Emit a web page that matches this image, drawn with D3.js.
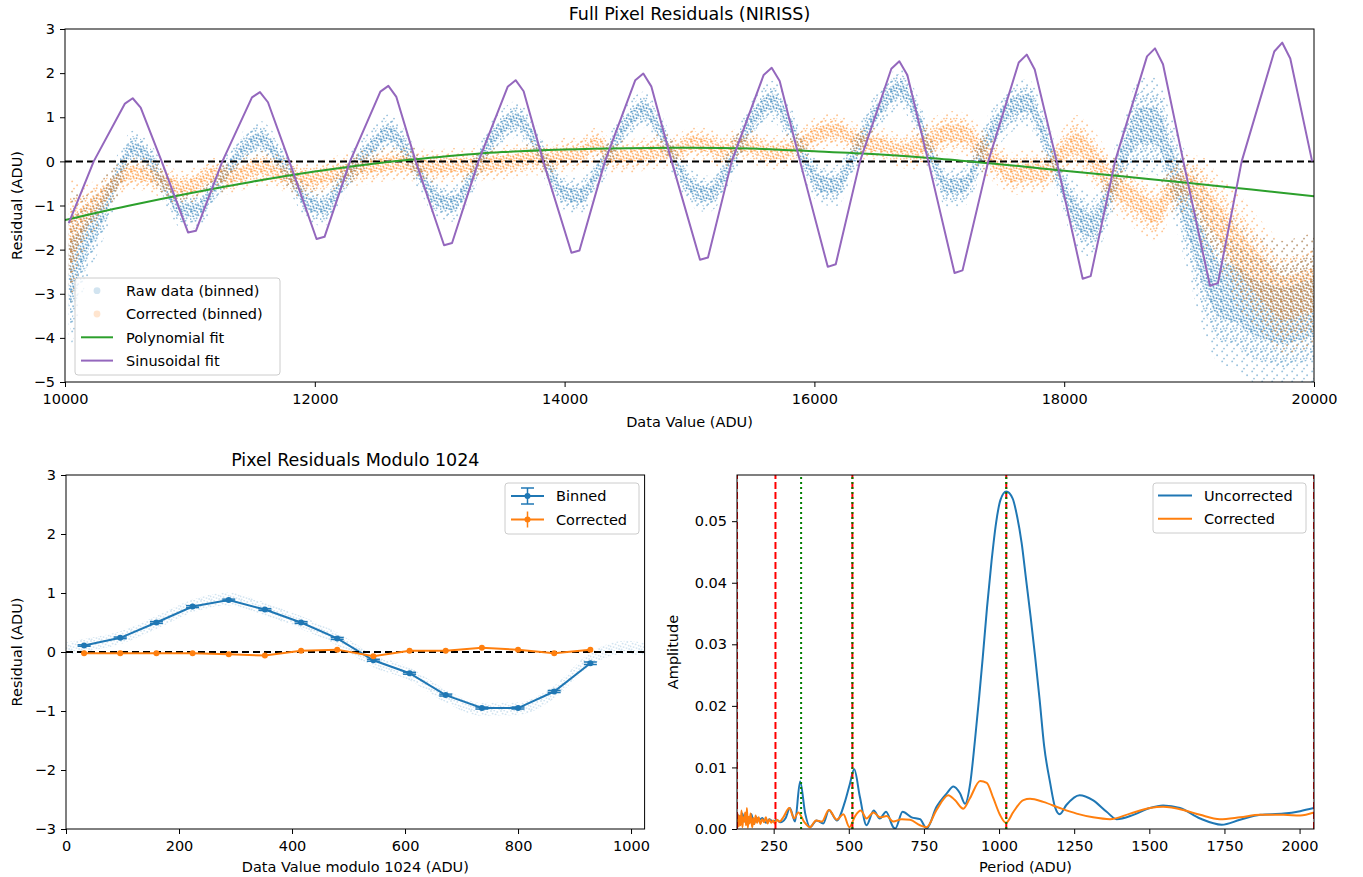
<!DOCTYPE html>
<html>
<head>
<meta charset="utf-8">
<script src="https://cdn.jsdelivr.net/npm/d3@7"></script>
<style>
  body { margin: 0; background: #fff; }
  svg text { font-family: "DejaVu Sans", sans-serif; fill: #000; }
  .tick text { font-size: 14.5px; }
  .tick line { stroke: #000; }
  .domain { display: none; }
</style>
</head>
<body>
<svg width="1363" height="877"></svg>
<script>
'use strict';

// ---- top panel: residual clouds, sampled every 128 ADU from 10030 ----
var gridStart = 10030, gridStep = 128;

var rawMid = [-2.6, -1.8, -1.2, -0.4, 0.28, 0.05, -0.55, -1.08, -1.10, -0.65,
  -0.15, 0.30, 0.50, 0.15, -0.40, -0.95, -1.05, -0.50, -0.05, 0.34,
  0.65, 0.30, -0.30, -0.85, -0.95, -0.50, 0.25, 0.72, 0.95, 0.55,
  -0.15, -0.72, -0.78, -0.30, 0.32, 0.90, 1.17, 0.68, -0.04, -0.62,
  -0.74, -0.30, 0.42, 1.05, 1.36, 0.90, 0.08, -0.50, -0.55, 0.05,
  0.78, 1.35, 1.65, 1.10, 0.08, -0.58, -0.55, 0.15, 0.80, 1.22,
  1.32, 0.60, -0.40, -1.20, -1.45, -0.80, 0.20, 0.80, 0.80, -0.10,
  -1.20, -2.20, -2.90, -3.00, -3.30, -3.40, -3.50, -3.40, -3.30];
var rawSpread = [1.5, 0.8, 0.55, 0.4, 0.32, 0.32, 0.32, 0.32, 0.32, 0.32,
  0.32, 0.32, 0.32, 0.32, 0.32, 0.32, 0.32, 0.32, 0.32, 0.32,
  0.32, 0.32, 0.32, 0.32, 0.32, 0.32, 0.32, 0.32, 0.32, 0.32,
  0.32, 0.32, 0.32, 0.32, 0.32, 0.32, 0.32, 0.32, 0.32, 0.32,
  0.32, 0.36, 0.36, 0.36, 0.36, 0.36, 0.36, 0.36, 0.36, 0.36,
  0.36, 0.36, 0.36, 0.36, 0.36, 0.36, 0.36, 0.42, 0.42, 0.42,
  0.42, 0.42, 0.42, 0.55, 0.55, 0.55, 0.55, 0.85, 0.85, 0.85,
  1.0, 1.3, 1.3, 1.3, 1.3, 1.3, 1.3, 1.3, 1.3];

var corMid = [-1.9, -1.25, -0.85, -0.45, -0.25, -0.32, -0.45, -0.60, -0.50, -0.30,
  -0.36, -0.26, -0.15, -0.23, -0.37, -0.42, -0.34, -0.24, -0.16, -0.11,
  -0.05, -0.03, -0.10, -0.12, -0.08, -0.10, -0.05, -0.03, 0.02, 0.08,
  0.04, 0.15, 0.19, 0.38, 0.12, 0.11, 0.18, 0.23, 0.23, 0.42,
  0.36, 0.24, 0.38, 0.30, 0.20, 0.25, 0.45, 0.65, 0.70, 0.52,
  0.40, 0.36, 0.25, 0.30, 0.48, 0.65, 0.62, 0.30, -0.02, -0.28,
  -0.23, -0.25, 0.15, 0.40, 0.10, -0.38, -0.70, -0.95, -1.15, -0.62,
  -0.50, -0.95, -1.40, -1.95, -2.40, -2.80, -3.10, -3.00, -2.90];
var corSpread = [1.2, 0.55, 0.4, 0.3, 0.3, 0.3, 0.3, 0.3, 0.3, 0.3,
  0.3, 0.3, 0.3, 0.3, 0.3, 0.3, 0.3, 0.3, 0.3, 0.3,
  0.3, 0.3, 0.3, 0.3, 0.3, 0.3, 0.3, 0.3, 0.3, 0.3,
  0.3, 0.3, 0.3, 0.3, 0.3, 0.3, 0.3, 0.3, 0.3, 0.3,
  0.3, 0.3, 0.3, 0.3, 0.3, 0.3, 0.3, 0.3, 0.3, 0.3,
  0.3, 0.3, 0.3, 0.38, 0.38, 0.38, 0.38, 0.38, 0.38, 0.38,
  0.38, 0.38, 0.38, 0.5, 0.5, 0.5, 0.5, 0.5, 0.5, 0.5,
  0.5, 0.8, 0.8, 1.0, 1.0, 1.0, 1.0, 1.0, 1.0];

var polyX = [10000, 10500, 11000, 11500, 12000, 12500, 13000, 13500, 14000, 14500, 15000,
  15500, 16000, 16500, 17000, 17500, 18000, 18500, 19000, 19500, 20000];
var polyY = [-1.33, -1.01, -0.72, -0.46, -0.23, -0.04, 0.10, 0.21, 0.27, 0.30, 0.31,
  0.29, 0.23, 0.16, 0.06, -0.07, -0.21, -0.35, -0.49, -0.64, -0.79];

var sinX = [10030, 10230, 10480, 10542, 10606, 10774, 10985, 11049, 11260, 11497, 11561, 11625,
  11796, 12014, 12078, 12282, 12525, 12589, 12653, 12808, 13035, 13099, 13310, 13544, 13608, 13672,
  13829, 14055, 14119, 14323, 14566, 14630, 14694, 14857, 15084, 15148, 15338, 15594, 15658, 15722,
  15885, 16107, 16171, 16365, 16616, 16680, 16744, 16912, 17122, 17186, 17392, 17636, 17700, 17764,
  17940, 18148, 18212, 18407, 18663, 18727, 18791, 18954, 19167, 19231, 19421, 19682, 19746, 19810, 19985];
var sinY = [-1.40, 0.00, 1.31, 1.43, 1.22, 0.00, -1.61, -1.57, 0.00, 1.45, 1.57, 1.34,
  0.00, -1.76, -1.71, 0.00, 1.58, 1.71, 1.46, 0.00, -1.90, -1.85, 0.00, 1.69, 1.84, 1.59,
  0.00, -2.07, -2.02, 0.00, 1.84, 1.99, 1.70, 0.00, -2.23, -2.18, 0.00, 1.96, 2.12, 1.82,
  0.00, -2.39, -2.33, 0.00, 2.10, 2.27, 1.96, 0.00, -2.53, -2.47, 0.00, 2.24, 2.42, 2.08,
  0.00, -2.66, -2.60, 0.00, 2.38, 2.56, 2.20, 0.00, -2.82, -2.76, 0.00, 2.49, 2.69, 2.33, 0.00];

// ---- bottom left: modulo 1024 ----
var binX = [32, 96, 160, 224, 288, 352, 416, 480, 544, 608, 672, 736, 800, 864, 928];
var binRaw = [0.11, 0.24, 0.50, 0.77, 0.88, 0.72, 0.50, 0.23, -0.14, -0.36, -0.73, -0.95, -0.95, -0.67, -0.19];
var binRawErr = [0.012, 0.014, 0.015, 0.016, 0.016, 0.015, 0.015, 0.016, 0.016, 0.016, 0.016, 0.017, 0.016, 0.018, 0.02];
var binCor = [-0.02, -0.02, -0.02, -0.02, -0.04, -0.06, 0.02, 0.04, -0.07, 0.02, 0.02, 0.07, 0.04, -0.02, 0.04];
var binCorErr = [0.012, 0.012, 0.013, 0.014, 0.014, 0.013, 0.013, 0.014, 0.014, 0.014, 0.014, 0.015, 0.014, 0.016, 0.018];
var modX = [0, 32, 96, 160, 224, 288, 352, 416, 480, 544, 608, 672, 736, 800, 864, 928, 992, 1024];
var modMid = [0.05, 0.11, 0.24, 0.50, 0.78, 0.90, 0.73, 0.50, 0.22, -0.15, -0.37, -0.75, -0.97, -0.96, -0.68, -0.12, 0.08, 0.04];

// ---- bottom right: periodogram ----
var perU = [128, 134, 140, 146, 152, 160, 168, 176, 184, 192, 200, 212, 224, 236, 248, 260, 272, 290, 304, 321,
  338, 355, 371, 393, 415, 434, 460, 487, 504, 518, 537, 559, 583, 603, 624, 648, 655, 679, 709, 737,
  759, 792, 826, 848, 870, 887, 904, 920, 933, 946, 960, 975, 990, 1005, 1024, 1045, 1060, 1075, 1090, 1105,
  1120, 1135, 1150, 1170, 1186, 1202, 1224, 1268, 1312, 1358, 1391, 1447, 1502, 1546, 1602, 1669, 1741, 1802,
  1869, 1947, 2002, 2048];
var ampU = [0.0015, 0.0022, 0.0008, 0.0025, 0.0012, 0.0020, 0.0010, 0.0024, 0.0008, 0.0019, 0.0014, 0.0018,
  0.0010, 0.0016, 0.0012, 0.0015, 0.0011, 0.0018, 0.0034, 0.0012, 0.0077, 0.0025, 0.0003, 0.0014, 0.0009,
  0.0031, 0.0014, 0.0044, 0.0074, 0.0097, 0.0052, 0.0006, 0.0030, 0.0017, 0.0028, 0.0003, 0.0001, 0.0028,
  0.0019, 0.0016, 0.0001, 0.0036, 0.0058, 0.0069, 0.0058, 0.0041, 0.0074, 0.0145, 0.0210, 0.0280, 0.0360,
  0.0435, 0.0497, 0.0535, 0.0548, 0.0537, 0.0508, 0.0465, 0.0405, 0.0345, 0.0280, 0.0210, 0.0135, 0.0075,
  0.0036, 0.0024, 0.0039, 0.0055, 0.0047, 0.0028, 0.0016, 0.0023, 0.0034, 0.0038, 0.0034, 0.0017, 0.0007,
  0.0015, 0.0023, 0.0025, 0.0029, 0.0034];
var perC = [128, 131, 134, 137, 140, 143, 146, 149, 152, 155, 158, 161, 164, 167, 170, 173, 176, 179, 182, 186,
  190, 195, 200, 206, 212, 218, 224, 230, 236, 242, 248, 254, 260, 270, 282, 302, 318, 332, 351, 371,
  391, 410, 434, 460, 482, 502, 521, 540, 559, 582, 604, 626, 648, 676, 704, 737, 759, 792, 831, 853,
  881, 903, 937, 959, 981, 1003, 1023, 1048, 1081, 1103, 1147, 1202, 1258, 1313, 1369, 1436, 1502, 1546,
  1613, 1669, 1735, 1802, 1869, 1947, 2002, 2048];
var ampC = [0.0008, 0.0024, 0.0004, 0.0021, 0.0006, 0.0030, 0.0003, 0.0019, 0.0012, 0.0027, 0.0006, 0.0034,
  0.0002, 0.0020, 0.0009, 0.0025, 0.0013, 0.0003, 0.0018, 0.0008, 0.0022, 0.0010, 0.0019, 0.0008, 0.0016,
  0.0011, 0.0019, 0.0009, 0.0016, 0.0010, 0.0014, 0.0009, 0.0015, 0.0012, 0.0019, 0.0034, 0.0017, 0.0027,
  0.0012, 0.0003, 0.0014, 0.0012, 0.0031, 0.0015, 0.0024, 0.0003, 0.0021, 0.0030, 0.0017, 0.0027, 0.0019,
  0.0021, 0.0012, 0.0016, 0.0015, 0.0006, 0.0003, 0.0031, 0.0055, 0.0047, 0.0033, 0.0050, 0.0078, 0.0075,
  0.0050, 0.0023, 0.0010, 0.0028, 0.0047, 0.0049, 0.0044, 0.0034, 0.0025, 0.0019, 0.0016, 0.0025, 0.0034,
  0.0036, 0.0031, 0.0023, 0.0016, 0.0019, 0.0023, 0.0023, 0.0022, 0.0027];
var powerLines = [128, 256, 512, 1024, 2048];     // red dashed
var harmonicLines = [1024, 512, 341.33];          // green dotted

var topXTicks = [10000, 12000, 14000, 16000, 18000, 20000];
var topYTicks = [-5, -4, -3, -2, -1, 0, 1, 2, 3];
var modXTicks = [0, 200, 400, 600, 800, 1000];
var modYTicks = [-3, -2, -1, 0, 1, 2, 3];
var perXTicks = [250, 500, 750, 1000, 1250, 1500, 1750, 2000];
var ampYTicks = [0, 0.01, 0.02, 0.03, 0.04, 0.05];

var blue = "#1f77b4", orange = "#ff7f0e", green = "#2ca02c", purple = "#9467bd";

var svg = d3.select("svg");
var defs = svg.append("defs");

// dotted fills used to render the dense scatter clouds
function dotPattern(id, color, pts, op) {
  var p = defs.append("pattern").attr("id", id)
    .attr("patternUnits", "userSpaceOnUse").attr("width", 10).attr("height", 10);
  pts.forEach(function(d) {
    p.append("circle").attr("cx", d[0]).attr("cy", d[1]).attr("r", 0.95)
      .attr("fill", color).attr("fill-opacity", op);
  });
}
var thin = [[2.2, 1.4], [7.1, 5.3], [4.0, 8.6]];
var sparse = [[1, 2], [5.5, 0.8], [8.2, 4.1], [3.1, 6.2], [6.6, 8.3], [0.6, 9.1]];
var dense = [[1, 1], [4.2, 0.6], [7.3, 2], [2.6, 3.6], [5.6, 4.4], [8.7, 5.6], [0.5, 6.4],
  [3.6, 7.1], [6.5, 8.1], [9.2, 9], [1.6, 9.4]];
dotPattern("blueThin", blue, thin, 0.45);
dotPattern("blueSparse", blue, sparse, 0.5);
dotPattern("blueDense", blue, dense, 0.6);
dotPattern("orangeThin", orange, thin, 0.45);
dotPattern("orangeSparse", orange, sparse, 0.5);
dotPattern("orangeDense", orange, dense, 0.55);
dotPattern("blueFaint", blue, dense, 0.2);

function clip(id, x0, y0, x1, y1) {
  defs.append("clipPath").attr("id", id).append("rect")
    .attr("x", x0).attr("y", y0).attr("width", x1 - x0).attr("height", y1 - y0);
}

function axes(x, y, xTicks, yTicks, xFmt, yFmt) {
  var r = x.range(), b = y.range();
  svg.append("g").attr("transform", "translate(0," + b[0] + ")")
    .call(d3.axisBottom(x).tickValues(xTicks).tickFormat(xFmt).tickSize(5).tickPadding(7));
  svg.append("g").attr("transform", "translate(" + r[0] + ",0)")
    .call(d3.axisLeft(y).tickValues(yTicks).tickFormat(yFmt).tickSize(5).tickPadding(5));
  svg.append("rect").attr("x", r[0]).attr("y", b[1])
    .attr("width", r[1] - r[0]).attr("height", b[0] - b[1])
    .attr("fill", "none").attr("stroke", "#000").attr("stroke-width", 1);
}

function label(txt, x, y, rot, anchor, size) {
  var t = svg.append("text").attr("font-size", (size || 14.5) + "px")
    .attr("text-anchor", anchor || "middle").text(txt);
  if (rot) t.attr("transform", "translate(" + x + "," + y + ") rotate(-90)");
  else t.attr("x", x).attr("y", y);
  return t;
}

function legendBox(x0, y0, w, h) {
  svg.append("rect").attr("x", x0).attr("y", y0).attr("width", w).attr("height", h)
    .attr("rx", 3).attr("fill", "#fff").attr("fill-opacity", 0.8)
    .attr("stroke", "#cccccc").attr("stroke-width", 1);
}

// ================= TOP PANEL =================
var xTop = d3.scaleLinear().domain([10000, 20000]).range([65, 1314]);
var yTop = d3.scaleLinear().domain([-5, 3]).range([382, 29]);
clip("clipTop", 65, 29, 1314, 382);
var gTop = svg.append("g").attr("clip-path", "url(#clipTop)");

function cloud(mid, spread, k, fill) {
  var rows = mid.map(function(m, i) { return {x: gridStart + gridStep * i, m: m, s: spread[i] * k}; });
  var area = d3.area().curve(d3.curveMonotoneX)
    .x(function(d) { return xTop(d.x); })
    .y0(function(d) { return yTop(d.m - d.s); })
    .y1(function(d) { return yTop(d.m + d.s); });
  gTop.append("path").datum(rows).attr("d", area).attr("fill", fill);
}
cloud(rawMid, rawSpread, 1.3, "url(#blueThin)");
cloud(rawMid, rawSpread, 0.9, "url(#blueSparse)");
cloud(rawMid, rawSpread, 0.5, "url(#blueDense)");
cloud(corMid, corSpread, 1.3, "url(#orangeThin)");
cloud(corMid, corSpread, 0.9, "url(#orangeSparse)");
cloud(corMid, corSpread, 0.5, "url(#orangeDense)");

gTop.append("line").attr("x1", xTop(10000)).attr("x2", xTop(20000))
  .attr("y1", yTop(0)).attr("y2", yTop(0))
  .attr("stroke", "#000").attr("stroke-width", 2).attr("stroke-dasharray", "7,4");

var lineTop = d3.line().x(function(d) { return xTop(d[0]); }).y(function(d) { return yTop(d[1]); });
gTop.append("path").datum(polyX.map(function(x, i) { return [x, polyY[i]]; }))
  .attr("d", lineTop.curve(d3.curveMonotoneX)).attr("fill", "none")
  .attr("stroke", green).attr("stroke-width", 2);
gTop.append("path").datum(sinX.map(function(x, i) { return [x, sinY[i]]; }))
  .attr("d", lineTop.curve(d3.curveLinear)).attr("fill", "none")
  .attr("stroke", purple).attr("stroke-width", 2).attr("stroke-linejoin", "round");

axes(xTop, yTop, topXTicks, topYTicks, d3.format("d"), d3.format("d"));
label("Full Pixel Residuals (NIRISS)", 689.5, 19.5, false, "middle", 17.5);
label("Data Value (ADU)", 689.5, 427);
label("Residual (ADU)", 21.5, 205.5, true);

// top legend
legendBox(75, 278, 205, 97);
var topLeg = [
  {label: "Raw data (binned)", color: blue, dot: true},
  {label: "Corrected (binned)", color: orange, dot: true},
  {label: "Polynomial fit", color: green},
  {label: "Sinusoidal fit", color: purple}
];
topLeg.forEach(function(d, i) {
  var yy = 290.7 + 23.3 * i;
  if (d.dot) {
    svg.append("circle").attr("cx", 97).attr("cy", yy).attr("r", 3.4)
      .attr("fill", d.color).attr("fill-opacity", 0.2);
  } else {
    svg.append("line").attr("x1", 81).attr("x2", 113).attr("y1", yy).attr("y2", yy)
      .attr("stroke", d.color).attr("stroke-width", 2);
  }
  label(d.label, 126, yy + 5.3, false, "start");
});

// ================= BOTTOM LEFT =================
var xMod = d3.scaleLinear().domain([0, 1024]).range([66, 644.6]);
var yMod = d3.scaleLinear().domain([-3, 3]).range([829, 475]);
clip("clipMod", 66, 475, 644.6, 829);
var gMod = svg.append("g").attr("clip-path", "url(#clipMod)");

gMod.append("path").datum(modX.map(function(x, i) { return [x, modMid[i]]; }))
  .attr("d", d3.area().curve(d3.curveMonotoneX)
    .x(function(d) { return xMod(d[0]); })
    .y0(function(d) { return yMod(d[1] - 0.11); })
    .y1(function(d) { return yMod(d[1] + 0.11); }))
  .attr("fill", "url(#blueFaint)");

function errSeries(vals, errs, color, caps) {
  var pts = binX.map(function(x, i) { return [x, vals[i], errs[i]]; });
  gMod.append("path").datum(pts)
    .attr("d", d3.line().x(function(d) { return xMod(d[0]); }).y(function(d) { return yMod(d[1]); }))
    .attr("fill", "none").attr("stroke", color).attr("stroke-width", 2);
  var g = gMod.append("g");
  pts.forEach(function(d) {
    var cx = xMod(d[0]);
    g.append("line").attr("x1", cx).attr("x2", cx)
      .attr("y1", yMod(d[1] - d[2])).attr("y2", yMod(d[1] + d[2]))
      .attr("stroke", color).attr("stroke-width", 1.5);
    if (caps) {
      [d[1] - d[2], d[1] + d[2]].forEach(function(v) {
        g.append("line").attr("x1", cx - 6.5).attr("x2", cx + 6.5)
          .attr("y1", yMod(v)).attr("y2", yMod(v))
          .attr("stroke", color).attr("stroke-width", 1.5);
      });
    }
    g.append("circle").attr("cx", cx).attr("cy", yMod(d[1])).attr("r", 3).attr("fill", color);
  });
}
errSeries(binRaw, binRawErr, blue, true);
gMod.append("line").attr("x1", xMod(0)).attr("x2", xMod(1024))
  .attr("y1", yMod(0)).attr("y2", yMod(0))
  .attr("stroke", "#000").attr("stroke-width", 2).attr("stroke-dasharray", "7,4");
errSeries(binCor, binCorErr, orange, false);

axes(xMod, yMod, modXTicks, modYTicks, d3.format("d"), d3.format("d"));
label("Pixel Residuals Modulo 1024", 355.3, 466, false, "middle", 17.5);
label("Data Value modulo 1024 (ADU)", 355.3, 872);
label("Residual (ADU)", 21.5, 652, true);

legendBox(505, 483, 134, 51);
[{label: "Binned", color: blue, caps: true}, {label: "Corrected", color: orange}].forEach(function(d, i) {
  var yy = 496 + 23.5 * i;
  svg.append("line").attr("x1", 511).attr("x2", 544).attr("y1", yy).attr("y2", yy)
    .attr("stroke", d.color).attr("stroke-width", 2);
  svg.append("line").attr("x1", 527.5).attr("x2", 527.5).attr("y1", yy - 8).attr("y2", yy + 8)
    .attr("stroke", d.color).attr("stroke-width", 1.5);
  if (d.caps) {
    [yy - 8, yy + 8].forEach(function(v) {
      svg.append("line").attr("x1", 521).attr("x2", 534).attr("y1", v).attr("y2", v)
        .attr("stroke", d.color).attr("stroke-width", 1.5);
    });
  }
  svg.append("circle").attr("cx", 527.5).attr("cy", yy).attr("r", 3).attr("fill", d.color);
  label(d.label, 556, yy + 5.3, false, "start");
});

// ================= BOTTOM RIGHT =================
var xPer = d3.scaleLinear().domain([128, 2048]).range([737, 1314]);
var yAmp = d3.scaleLinear().domain([0, 0.0575]).range([829, 475]);
clip("clipPer", 737, 475, 1314, 829);
var gPer = svg.append("g").attr("clip-path", "url(#clipPer)");

var linePer = d3.line().curve(d3.curveMonotoneX)
  .x(function(d) { return xPer(d[0]); }).y(function(d) { return yAmp(d[1]); });
gPer.append("path").datum(perU.map(function(p, i) { return [p, ampU[i]]; }))
  .attr("d", linePer).attr("fill", "none").attr("stroke", blue).attr("stroke-width", 2);
gPer.append("path").datum(perC.map(function(p, i) { return [p, ampC[i]]; }))
  .attr("d", linePer).attr("fill", "none").attr("stroke", orange).attr("stroke-width", 2);

gPer.selectAll(".pw").data(powerLines).enter().append("line")
  .attr("x1", function(d) { return xPer(d); }).attr("x2", function(d) { return xPer(d); })
  .attr("y1", yAmp.range()[0]).attr("y2", yAmp.range()[1])
  .attr("stroke", "red").attr("stroke-width", 2).attr("stroke-dasharray", "7,3");
gPer.selectAll(".hm").data(harmonicLines).enter().append("line")
  .attr("x1", function(d) { return xPer(d); }).attr("x2", function(d) { return xPer(d); })
  .attr("y1", yAmp.range()[0]).attr("y2", yAmp.range()[1])
  .attr("stroke", "green").attr("stroke-width", 2).attr("stroke-dasharray", "2,3");

axes(xPer, yAmp, perXTicks, ampYTicks, d3.format("d"), d3.format(".2f"));
label("Period (ADU)", 1025.5, 872);
label("Amplitude", 678, 652, true);

legendBox(1153, 483, 153, 50);
[{label: "Uncorrected", color: blue}, {label: "Corrected", color: orange}].forEach(function(d, i) {
  var yy = 495.5 + 23.3 * i;
  svg.append("line").attr("x1", 1158).attr("x2", 1192).attr("y1", yy).attr("y2", yy)
    .attr("stroke", d.color).attr("stroke-width", 2);
  label(d.label, 1204, yy + 5.3, false, "start");
});
</script>
</body>
</html>
